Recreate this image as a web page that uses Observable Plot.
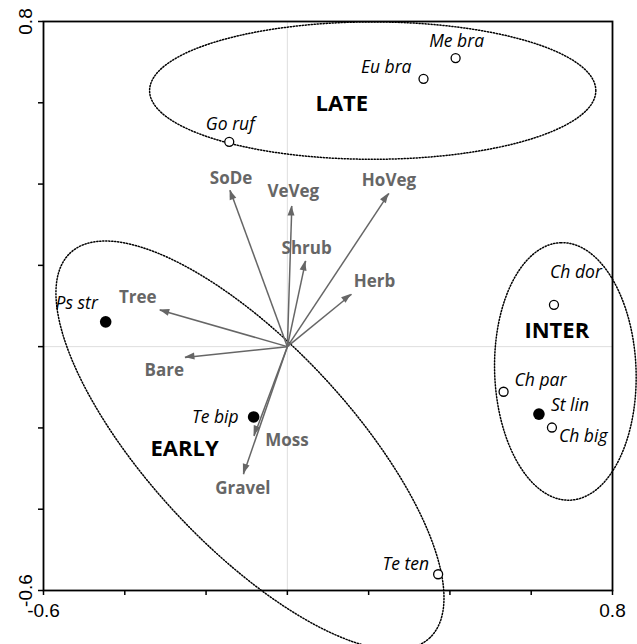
<!DOCTYPE html>
<html><head><meta charset="utf-8">
<script src="https://cdn.jsdelivr.net/npm/d3@7"></script>
<script src="https://cdn.jsdelivr.net/npm/@observablehq/plot@0.6"></script>
<style>body{margin:0;background:#fff;} svg{overflow:visible}</style>
</head><body><div id="chart"></div>
<script>
// ---- data ----
const species = ["Me bra","Eu bra","Go ruf","Ps str","Te bip","Ch dor","Ch par","St lin","Ch big","Te ten"];
const speciesX = [0.414,0.335,-0.143,-0.447,-0.083,0.656,0.532,0.619,0.651,0.371];
const speciesY = [0.710,0.659,0.504,0.061,-0.173,0.103,-0.111,-0.166,-0.199,-0.560];
const speciesFilled = [false,false,false,true,true,false,false,true,false,false];

const variables = ["SoDe","VeVeg","HoVeg","Shrub","Herb","Tree","Bare","Moss","Gravel"];
const varX = [-0.141,0.011,0.250,0.045,0.158,-0.314,-0.252,-0.082,-0.108];
const varY = [0.385,0.346,0.377,0.211,0.129,0.090,-0.027,-0.220,-0.314];

const groups = ["LATE","EARLY","INTER"];
const groupX = [0.134,-0.253,0.663];
const groupY = [0.596,-0.252,0.039];
const ellipseCX = [0.210,-0.092,0.684];
const ellipseCY = [0.630,-0.243,-0.061];
const ellipseRA = [0.549,0.648,0.317];
const ellipseRB = [0.169,0.247,0.174];
const ellipseAngle = [0,-47,92];

const axisTicks = [-0.6,-0.4,-0.2,0,0.2,0.4,0.6,0.8];
const endTicks = [-0.6,0.8];
const endTickLabels = ["-0.6","0.8"];

// ---- presentation (label placement relative to marks, in px) ----
const speciesLabelPos = {
  "Me bra": ["middle", 1, -17], "Eu bra": ["end", -12, -11], "Go ruf": ["middle", 1, -17],
  "Ps str": ["middle", -29, -18], "Te bip": ["end", -15, 0], "Ch dor": ["middle", 22, -32],
  "Ch par": ["start", 11, -11.5], "St lin": ["start", 12, -9], "Ch big": ["start", 7, 9],
  "Te ten": ["end", -9, -10]
};
const varLabelPos = {
  "SoDe": [1, -12], "VeVeg": [1.5, -14], "HoVeg": [0, -12.5], "Shrub": [1, -12.7],
  "Herb": [23, -12.3], "Tree": [-22, -13], "Bare": [-20.6, 13.3], "Moss": [33, 4.7], "Gravel": [-0.7, 14]
};

const spData = species.map((name, i) => ({name, x: speciesX[i], y: speciesY[i], filled: speciesFilled[i]}));
const varData = variables.map((name, i) => ({name, x: varX[i], y: varY[i]}));
const grpData = groups.map((name, i) => ({name, x: groupX[i], y: groupY[i]}));
const ellData = [];
groups.forEach((g, i) => {
  const t = ellipseAngle[i] * Math.PI / 180;
  for (let k = 0; k <= 360; k += 2) {
    const a = k * Math.PI / 180;
    const u = ellipseRA[i] * Math.cos(a), v = ellipseRB[i] * Math.sin(a);
    ellData.push({g, x: ellipseCX[i] + u * Math.cos(t) - v * Math.sin(t), y: ellipseCY[i] + u * Math.sin(t) + v * Math.cos(t)});
  }
});

const arrowColor = "#666";
const labelFont = "'Open Sans', sans-serif";

function arrowHeads(index, scales) {
  const {x, y} = scales;
  const g = d3.create("svg:g").attr("fill", arrowColor);
  varData.forEach(d => {
    const x0 = x(0), y0 = y(0), x1 = x(d.x), y1 = y(d.y);
    const ang = Math.atan2(y1 - y0, x1 - x0);
    const L = 10, W = 3.5;
    const bx = x1 - L * Math.cos(ang), by = y1 - L * Math.sin(ang);
    const px = -Math.sin(ang) * W, py = Math.cos(ang) * W;
    g.append("path").attr("d", `M${x1},${y1}L${bx + px},${by + py}L${bx - px},${by - py}Z`);
  });
  return g.node();
}

const marks = [
  Plot.ruleX([0], {stroke: "#dedede", strokeWidth: 1}),
  Plot.ruleY([0], {stroke: "#dedede", strokeWidth: 1}),
  Plot.frame({stroke: "black", strokeWidth: 1.8}),
  Plot.axisX({ticks: axisTicks, tickSize: 5, tickFormat: () => "", label: null, stroke: "black", strokeWidth: 1.5}),
  Plot.axisY({ticks: axisTicks, tickSize: 5, tickFormat: () => "", label: null, stroke: "black", strokeWidth: 1.5}),
  Plot.text(endTicks, {x: d => d, y: -0.6, text: (d, i) => endTickLabels[i], dy: 20, fontFamily: "'Liberation Sans', Arial, sans-serif", fontSize: 19, fill: "black"}),
  Plot.text(endTicks, {x: -0.6, y: d => d, text: (d, i) => endTickLabels[i], dx: -18, rotate: -90, fontFamily: "'Liberation Sans', Arial, sans-serif", fontSize: 19, fill: "black"}),
  Plot.line(ellData, {x: "x", y: "y", z: "g", stroke: "black", strokeWidth: 1.5, strokeDasharray: "1.2 1.8", curve: "linear"}),
  Plot.link(varData, {x1: () => 0, y1: () => 0, x2: "x", y2: "y", stroke: arrowColor, strokeWidth: 1.5}),
  arrowHeads,
  ...varData.map(d => Plot.text([d], {x: "x", y: "y", text: "name", dx: varLabelPos[d.name][0], dy: varLabelPos[d.name][1], fill: "#666", fontWeight: "bold", fontSize: 17, fontFamily: labelFont})),
  Plot.dot(spData.filter(d => !d.filled), {x: "x", y: "y", r: 4.5, stroke: "black", strokeWidth: 1.3, fill: "white"}),
  Plot.dot(spData.filter(d => d.filled), {x: "x", y: "y", r: 5.8, fill: "black", stroke: "none"}),
  ...spData.map(d => Plot.text([d], {x: "x", y: "y", text: "name", textAnchor: speciesLabelPos[d.name][0], dx: speciesLabelPos[d.name][1], dy: speciesLabelPos[d.name][2], fill: "black", fontStyle: "italic", fontWeight: 500, fontSize: 17.5, fontFamily: labelFont})),
  Plot.text(grpData, {x: "x", y: "y", text: "name", fill: "black", fontWeight: "bold", fontSize: 22, fontFamily: labelFont})
];

const chart = Plot.plot({
  width: 637, height: 644,
  marginLeft: 43, marginRight: 25, marginTop: 21, marginBottom: 54,
  x: {domain: [-0.6, 0.8], axis: null},
  y: {domain: [-0.6, 0.8], axis: null},
  style: {background: "white", overflow: "visible"},
  marks
});
document.getElementById("chart").appendChild(chart);
</script>
</body></html>
